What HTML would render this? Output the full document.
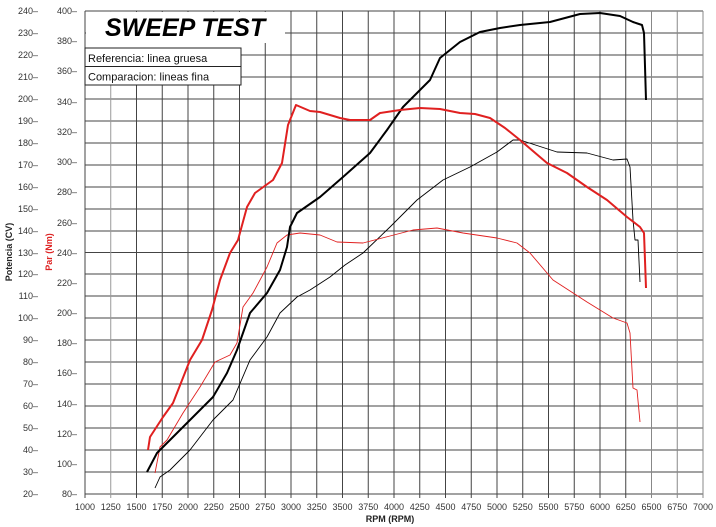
<!DOCTYPE html>
<html><head><meta charset="utf-8"><style>
html,body{margin:0;padding:0;background:#fff;}
svg{display:block;font-family:"Liberation Sans",sans-serif;}
</style></head><body>
<svg width="716" height="527" viewBox="0 0 716 527" xmlns="http://www.w3.org/2000/svg">
<rect width="716" height="527" fill="#fff"/>
<g stroke="#444" stroke-width="1">
<line x1="85" y1="11" x2="703" y2="11"/><line x1="85" y1="33" x2="703" y2="33"/><line x1="85" y1="55" x2="703" y2="55"/><line x1="85" y1="77" x2="703" y2="77"/><line x1="85" y1="99" x2="703" y2="99"/><line x1="85" y1="121" x2="703" y2="121"/><line x1="85" y1="143" x2="703" y2="143"/><line x1="85" y1="165" x2="703" y2="165"/><line x1="85" y1="187" x2="703" y2="187"/><line x1="85" y1="209" x2="703" y2="209"/><line x1="85" y1="231" x2="703" y2="231"/><line x1="85" y1="252.5" x2="703" y2="252.5"/><line x1="85" y1="274" x2="703" y2="274"/><line x1="85" y1="296" x2="703" y2="296"/><line x1="85" y1="318" x2="703" y2="318"/><line x1="85" y1="340" x2="703" y2="340"/><line x1="85" y1="362" x2="703" y2="362"/><line x1="85" y1="384" x2="703" y2="384"/><line x1="85" y1="406" x2="703" y2="406"/><line x1="85" y1="428" x2="703" y2="428"/><line x1="85" y1="450" x2="703" y2="450"/><line x1="85" y1="472" x2="703" y2="472"/><line x1="85" y1="494" x2="703" y2="494"/>
<line x1="85" y1="11" x2="85" y2="498"/><line x1="110.75" y1="11" x2="110.75" y2="498" stroke="#999"/><line x1="136.5" y1="11" x2="136.5" y2="498"/><line x1="162.25" y1="11" x2="162.25" y2="498"/><line x1="188" y1="11" x2="188" y2="498"/><line x1="213.75" y1="11" x2="213.75" y2="498"/><line x1="239.5" y1="11" x2="239.5" y2="498"/><line x1="265.25" y1="11" x2="265.25" y2="498"/><line x1="291" y1="11" x2="291" y2="498"/><line x1="316.75" y1="11" x2="316.75" y2="498"/><line x1="342.5" y1="11" x2="342.5" y2="498"/><line x1="368.25" y1="11" x2="368.25" y2="498"/><line x1="394" y1="11" x2="394" y2="498"/><line x1="419.75" y1="11" x2="419.75" y2="498"/><line x1="445.5" y1="11" x2="445.5" y2="498"/><line x1="471.25" y1="11" x2="471.25" y2="498"/><line x1="497" y1="11" x2="497" y2="498"/><line x1="522.75" y1="11" x2="522.75" y2="498"/><line x1="548.5" y1="11" x2="548.5" y2="498"/><line x1="574.25" y1="11" x2="574.25" y2="498"/><line x1="600" y1="11" x2="600" y2="498"/><line x1="625.75" y1="11" x2="625.75" y2="498"/><line x1="651.5" y1="11" x2="651.5" y2="498" stroke="#888"/><line x1="677.25" y1="11" x2="677.25" y2="498" stroke="#888"/><line x1="703" y1="11" x2="703" y2="498" stroke="#888"/>
</g>
<rect x="86" y="12" width="199" height="31" fill="#fff"/>
<rect x="86" y="43" width="155" height="42" fill="#fff"/>
<text x="105" y="36" font-size="25" font-weight="bold" font-style="italic" fill="#000">SWEEP TEST</text>
<rect x="85" y="48" width="156" height="18.5" fill="#fff" stroke="#222"/>
<rect x="85" y="66.5" width="156" height="18.5" fill="#fff" stroke="#222"/>
<text x="88" y="62" font-size="11" fill="#111">Referencia: linea gruesa</text>
<text x="88" y="80.5" font-size="11" fill="#111">Comparacion: lineas fina</text>
<g font-size="9" fill="#333" text-anchor="end">
<text x="38" y="14">240–</text><text x="38" y="36">230–</text><text x="38" y="58">220–</text><text x="38" y="80">210–</text><text x="38" y="102">200–</text><text x="38" y="124">190–</text><text x="38" y="146">180–</text><text x="38" y="168">170–</text><text x="38" y="190">160–</text><text x="38" y="212">150–</text><text x="38" y="234">140–</text><text x="38" y="256">130–</text><text x="38" y="277">120–</text><text x="38" y="299">110–</text><text x="38" y="321">100–</text><text x="38" y="343">90–</text><text x="38" y="365">80–</text><text x="38" y="387">70–</text><text x="38" y="409">60–</text><text x="38" y="431">50–</text><text x="38" y="453">40–</text><text x="38" y="475">30–</text><text x="38" y="497">20–</text>
<text x="77" y="14">400–</text><text x="77" y="44">380–</text><text x="77" y="74">360–</text><text x="77" y="105">340–</text><text x="77" y="135">320–</text><text x="77" y="165">300–</text><text x="77" y="195">280–</text><text x="77" y="226">260–</text><text x="77" y="256">240–</text><text x="77" y="286">220–</text><text x="77" y="316">200–</text><text x="77" y="346">180–</text><text x="77" y="376">160–</text><text x="77" y="407">140–</text><text x="77" y="437">120–</text><text x="77" y="467">100–</text><text x="77" y="497">80–</text>
</g>
<g font-size="9" fill="#333" text-anchor="middle">
<text x="85" y="510">1000</text><text x="110.75" y="510">1250</text><text x="136.5" y="510">1500</text><text x="162.25" y="510">1750</text><text x="188" y="510">2000</text><text x="213.75" y="510">2250</text><text x="239.5" y="510">2500</text><text x="265.25" y="510">2750</text><text x="291" y="510">3000</text><text x="316.75" y="510">3250</text><text x="342.5" y="510">3500</text><text x="368.25" y="510">3750</text><text x="394" y="510">4000</text><text x="419.75" y="510">4250</text><text x="445.5" y="510">4500</text><text x="471.25" y="510">4750</text><text x="497" y="510">5000</text><text x="522.75" y="510">5250</text><text x="548.5" y="510">5500</text><text x="574.25" y="510">5750</text><text x="600" y="510">6000</text><text x="625.75" y="510">6250</text><text x="651.5" y="510">6500</text><text x="677.25" y="510">6750</text><text x="703" y="510">7000</text>
</g>
<text x="390" y="522" font-size="9" font-weight="bold" fill="#222" text-anchor="middle">RPM (RPM)</text>
<text transform="translate(12,252) rotate(-90)" font-size="9" font-weight="bold" fill="#222" text-anchor="middle">Potencia (CV)</text>
<text transform="translate(52,252) rotate(-90)" font-size="9" font-weight="bold" fill="#d22" text-anchor="middle">Par (Nm)</text>
<g fill="none" stroke-linejoin="round">
<polyline stroke="#000" stroke-width="0.9" points="155,488 160,477 170,470 190,450 213,420 233,400 250,360 267,337 280,313 297,297 310,290 330,277 345,265 363,253 390,227 417,200 443,180 470,167 497,152 513,140 520,140 557,152 587,153 613,160 627,159 630,167 633,220 635,240 638,240 640,282"/>
<polyline stroke="#e02020" stroke-width="0.9" points="155,473 160,447 167,440 183,413 200,387 215,362 230,355 237,343 243,307 253,293 267,267 277,243 287,235 300,233 320,235 337,242 363,243 390,236 413,230 437,228 463,233 497,238 517,243 530,253 553,280 587,302 613,318 627,323 630,333 633,388 637,390 640,422"/>
<polyline stroke="#000" stroke-width="2" points="147,472 157,453 173,437 190,420 213,397 227,373 237,350 250,313 267,293 280,270 287,247 290,227 297,213 320,197 343,177 370,153 387,130 403,107 430,80 440,58 460,42 480,32 500,28 520,25 550,22 580,14 600,13 620,16 633,22 642,25 644,33 646,100"/>
<polyline stroke="#e02020" stroke-width="2" points="148,450 150,437 163,417 173,403 190,360 202,340 212,310 220,280 230,253 238,240 247,207 255,193 273,180 282,163 288,125 296,105 310,111 320,112 340,118 350,120 370,120 380,113 400,110 420,108 440,109 460,113 475,114 490,118 505,128 520,140 547,163 567,173 587,187 607,200 627,217 640,227 644,233 646,288"/>
</g>
</svg>
</body></html>
